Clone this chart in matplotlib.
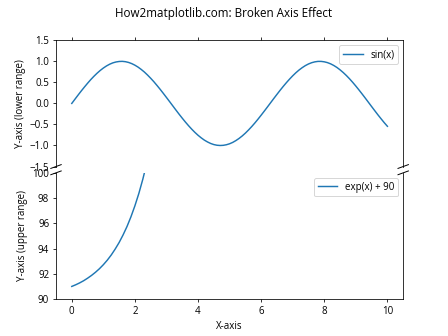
import matplotlib
matplotlib.use("Agg")
import matplotlib.pyplot as plt

plt.rcParams['font.family'] = ['Open Sans', 'DejaVu Sans']

# sin(x), sampled every 0.1
x_lower = [0.0, 0.1, 0.2, 0.3, 0.4, 0.5, 0.6, 0.7, 0.8, 0.9,
           1.0, 1.1, 1.2, 1.3, 1.4, 1.5, 1.6, 1.7, 1.8, 1.9,
           2.0, 2.1, 2.2, 2.3, 2.4, 2.5, 2.6, 2.7, 2.8, 2.9,
           3.0, 3.1, 3.2, 3.3, 3.4, 3.5, 3.6, 3.7, 3.8, 3.9,
           4.0, 4.1, 4.2, 4.3, 4.4, 4.5, 4.6, 4.7, 4.8, 4.9,
           5.0, 5.1, 5.2, 5.3, 5.4, 5.5, 5.6, 5.7, 5.8, 5.9,
           6.0, 6.1, 6.2, 6.3, 6.4, 6.5, 6.6, 6.7, 6.8, 6.9,
           7.0, 7.1, 7.2, 7.3, 7.4, 7.5, 7.6, 7.7, 7.8, 7.9,
           8.0, 8.1, 8.2, 8.3, 8.4, 8.5, 8.6, 8.7, 8.8, 8.9,
           9.0, 9.1, 9.2, 9.3, 9.4, 9.5, 9.6, 9.7, 9.8, 9.9,
           10.0]
y_lower = [0.000, 0.100, 0.199, 0.296, 0.389, 0.479, 0.565, 0.644, 0.717, 0.783,
           0.841, 0.891, 0.932, 0.964, 0.985, 0.997, 1.000, 0.992, 0.974, 0.946,
           0.909, 0.863, 0.808, 0.746, 0.675, 0.598, 0.516, 0.427, 0.335, 0.239,
           0.141, 0.042, -0.058, -0.158, -0.256, -0.351, -0.443, -0.530, -0.612, -0.688,
           -0.757, -0.818, -0.872, -0.916, -0.952, -0.978, -0.994, -1.000, -0.996, -0.982,
           -0.959, -0.926, -0.883, -0.832, -0.773, -0.706, -0.631, -0.551, -0.465, -0.374,
           -0.279, -0.182, -0.083, 0.017, 0.117, 0.215, 0.312, 0.405, 0.494, 0.578,
           0.657, 0.729, 0.794, 0.850, 0.899, 0.938, 0.968, 0.988, 0.999, 0.999,
           0.989, 0.970, 0.941, 0.902, 0.855, 0.798, 0.734, 0.663, 0.585, 0.501,
           0.412, 0.319, 0.223, 0.125, 0.025, -0.075, -0.174, -0.272, -0.366, -0.458,
           -0.544]

# exp(x) + 90, rising out of the upper panel
x_upper = [0.0, 0.125, 0.25, 0.375, 0.5, 0.625, 0.75, 0.875, 1.0, 1.125, 1.25,
           1.375, 1.5, 1.625, 1.75, 1.875, 2.0, 2.125, 2.25, 2.375, 2.5]
y_upper = [91.00, 91.13, 91.28, 91.45, 91.65, 91.87, 92.12, 92.40, 92.72, 93.08, 93.49,
           93.96, 94.48, 95.08, 95.75, 96.52, 97.39, 98.37, 99.49, 100.75, 102.18]

fig, (ax1, ax2) = plt.subplots(2, 1, sharex=True, figsize=(6.4, 4.8), dpi=70)
fig.subplots_adjust(hspace=0.05)

ax1.plot(x_lower, y_lower, label='sin(x)')
ax2.plot(x_upper, y_upper, label='exp(x) + 90')

ax1.set_ylim(-1.5, 1.5)
ax2.set_ylim(90, 100)

ax1.spines['bottom'].set_visible(False)
ax2.spines['top'].set_visible(False)
ax1.xaxis.tick_top()
ax1.tick_params(labeltop=False)
ax2.xaxis.tick_bottom()

# diagonal break marks
d = 0.015
kw = dict(transform=ax1.transAxes, color='k', clip_on=False, linewidth=1)
ax1.plot((-d, +d), (-d, +d), **kw)
ax1.plot((1 - d, 1 + d), (-d, +d), **kw)
kw.update(transform=ax2.transAxes)
ax2.plot((-d, +d), (1 - d, 1 + d), **kw)
ax2.plot((1 - d, 1 + d), (1 - d, 1 + d), **kw)

ax1.set_ylabel('Y-axis (lower range)')
ax2.set_ylabel('Y-axis (upper range)')
ax2.set_xlabel('X-axis')
ax1.legend()
ax2.legend()
fig.suptitle('How2matplotlib.com: Broken Axis Effect')

fig.savefig('out.png', dpi=70)
